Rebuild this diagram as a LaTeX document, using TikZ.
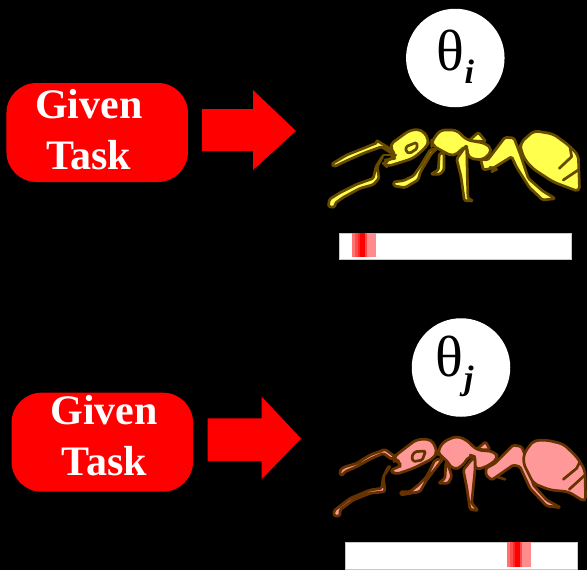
\documentclass[tikz,border=0pt]{standalone}
\usepackage{fontspec}
\setmainfont{Liberation Serif}
\definecolor{antY}{HTML}{FFFF4D}
\definecolor{antYd}{HTML}{664A00}
\definecolor{antP}{HTML}{FF9999}
\definecolor{antPd}{HTML}{663300}
\definecolor{baredge}{HTML}{C8C8C8}
\tikzset{
  x=1pt,y=-1pt,
  task/.style={fill=red,rounded corners=30pt,minimum width=181.5pt,minimum height=99pt,inner sep=0pt},
  tasktext/.style={text=white,font=\fontsize{42}{51}\selectfont\bfseries,align=center,inner sep=0pt},
  disc/.style={circle,fill=white,minimum size=98.5pt,inner sep=0pt},
  greek/.style={anchor=base west,inner sep=0pt,font=\fontsize{58}{60}\selectfont},
  subidx/.style={anchor=base west,inner sep=0pt,font=\fontsize{34}{36}\selectfont\bfseries\itshape},
  bigarrow/.style={fill=red,line join=round},
  antpart/.style={line width=2.7pt,line join=round,rounded corners=1.5pt,fill=antfill,draw=antline},
  antbody/.style={antpart,rounded corners=5pt},
  antstroke/.style={line width=2.7pt,line join=round,line cap=round,draw=antline},
  za/.style={shift={(320,110)},x=0.3333pt,y=-0.3333pt},
  zb/.style={shift={(320,420)},x=0.3333pt,y=-0.3333pt},
}
\colorlet{antfill}{antY}\colorlet{antline}{antYd}
\begin{document}
\begin{tikzpicture}
\useasboundingbox (0,0) rectangle (587,570);
\fill[black] (0,0) rectangle (587,570);
% upper row
\node[task] (box1) at (97.2,132.5) {};
\node[tasktext] (txt1) at (88.7,130) {Given\\Task};
\path[bigarrow] (202,109) -- (253,109) -- (253,90) -- (296,131) -- (253,170) -- (253,151) -- (202,151) -- cycle;
\node[disc] (th1) at (455.3,58) {};
\node[greek] (g1) at (436,70) {θ};
\node[subidx] (s1) at (464.5,83) {i};
% yellow ant
\begin{scope}[za]
\path[antpart] (482,148) -- (503,150) -- (555,82) -- (582,84) -- (600,130) -- (625,205) -- (668,243) -- (706,266) -- (668,270) -- (628,232) -- (590,172) -- (575,140) -- (520,174) -- (490,180) -- cycle;
\path[antbody] (600,100) -- (642,62) -- (700,72) -- (745,105) -- (775,135) -- (779,246) -- (700,216) -- (640,177) -- (615,150) -- (603,120) -- cycle;
\path[antpart] (447,92) -- (475,67) -- (498,95) -- cycle;
\path[antpart] (358,130) -- (372,130) -- (372,180) -- (360,193) -- (332,193) -- (355,180) -- cycle;
\path[antbody] (335,95) -- (360,60) -- (410,60) -- (440,90) -- (497,100) -- (518,120) -- (490,150) -- (445,145) -- (440,105) -- (400,140) -- (370,125) -- (335,105) -- cycle;
\path[antpart] (410,147) -- (440,105) -- (442,200) -- (444,265) -- (460,273) -- (433,272) -- (423,200) -- cycle;
\path[antpart] (352,115) -- (330,120) -- (300,170) -- (280,198) -- (250,212) -- (220,216) -- (222,228) -- (255,233) -- (294,210) -- (302,185) -- (335,130) -- cycle;
\path[antpart] (35,162) -- (80,135) -- (130,115) -- (172,98) -- (168,90) -- (220,122) -- (215,130) -- (185,110) -- (130,130) -- (85,150) -- (42,170) -- cycle;
\path[antpart] (190,135) -- (172,170) -- (177,205) -- (160,224) -- (120,235) -- (70,262) -- (45,280) -- (45,292) -- (25,290) -- (28,268) -- (60,248) -- (110,223) -- (160,205) -- (168,170) -- cycle;
\path[antbody] (208,105) -- (270,60) -- (305,58) -- (328,90) -- (320,110) -- (280,145) -- (200,170) -- (190,160) -- (205,150) -- (225,140) -- (220,125) -- cycle;
\path[antpart] (258,110) -- (290,97) -- (292,115) -- (270,130) -- (258,125) -- cycle;
\path[antstroke] (190,135) -- (228,135);
\path[antstroke] (195,150) -- (225,145);
\path[antstroke] (750,110) -- (755,140) -- (718,175);
\path[antstroke] (775,180) -- (730,210);
\path[antstroke] (510,172) -- (530,178) -- (515,185);
\end{scope}
% bar 1
\fill[white,draw=baredge,line width=0.6pt] (339.6,233.3) rectangle (571.7,259.4);
\fill[red!45] (352.3,233.3) rectangle (375.7,257.3);
\fill[red!55] (352.3,233.3) rectangle (355,257.3);
\fill[red!70] (355,233.3) rectangle (367,257.3);
\fill[red!85] (358,233.3) rectangle (360,257.3);
\fill[red] (360,233.3) rectangle (365,257.3);
% lower row
\node[task] (box2) at (102.3,442.2) {};
\node[tasktext] (txt2) at (104.3,436) {Given\\Task};
\path[bigarrow] (207.7,418.3) -- (261.7,418.3) -- (261.7,396.7) -- (301,438.5) -- (261.7,479.3) -- (261.7,461) -- (207.7,461) -- cycle;
\node[disc] (th2) at (461,367.5) {};
\node[greek] (g2) at (435,376) {θ};
\node[subidx] (s2) at (464,389) {j};
% pink ant
\colorlet{antfill}{antP}\colorlet{antline}{antPd}
\begin{scope}[zb]
\path[antpart] (498,145) -- (525,130) -- (580,75) -- (605,80) -- (625,130) -- (640,195) -- (680,240) -- (722,263) -- (680,258) -- (630,205) -- (600,140) -- (580,135) -- (515,180) -- (498,165) -- cycle;
\path[antbody] (612,100) -- (640,62) -- (680,60) -- (730,72) -- (770,110) -- (795,150) -- (797,247) -- (745,215) -- (690,210) -- (640,190) -- (610,130) -- cycle;
\path[antpart] (470,88) -- (497,65) -- (510,90) -- cycle;
\path[antpart] (378,125) -- (390,150) -- (395,170) -- (385,190) -- (355,190) -- (375,175) -- cycle;
\path[antbody] (355,90) -- (370,65) -- (410,48) -- (440,60) -- (470,90) -- (525,95) -- (535,115) -- (500,140) -- (465,150) -- (465,110) -- (450,105) -- (425,140) -- (400,150) -- (375,115) -- (355,105) -- cycle;
\path[antpart] (430,150) -- (450,125) -- (465,110) -- (465,150) -- (455,250) -- (475,272) -- (450,268) -- (440,200) -- cycle;
\path[antpart] (370,115) -- (345,120) -- (320,170) -- (295,195) -- (270,215) -- (242,215) -- (242,225) -- (300,215) -- (320,180) -- cycle;
\path[antpart] (65,168) -- (58,155) -- (70,142) -- (110,130) -- (150,105) -- (195,88) -- (225,110) -- (215,118) -- (190,100) -- (155,115) -- (110,140) -- (75,155) -- cycle;
\path[antpart] (210,140) -- (190,170) -- (195,215) -- (150,220) -- (100,240) -- (60,270) -- (60,288) -- (42,288) -- (42,272) -- (90,235) -- (150,210) -- (185,205) -- (190,170) -- (205,140) -- cycle;
\path[antbody] (222,110) -- (290,58) -- (335,58) -- (352,95) -- (340,115) -- (280,145) -- (222,165) -- (210,145) -- (240,145) -- (240,125) -- (222,120) -- cycle;
\path[antpart] (275,110) -- (285,95) -- (317,93) -- (307,120) -- (280,125) -- cycle;
\path[antstroke] (780,125) -- (770,145) -- (730,178);
\path[antstroke] (795,165) -- (748,208);
\path[antstroke] (530,170) -- (555,178);
\end{scope}
% bar 2
\fill[white,draw=baredge,line width=0.6pt] (345,542.3) rectangle (577,569.5);
\fill[red!45] (507.3,542.3) rectangle (530.7,567);
\fill[red!55] (507.3,542.3) rectangle (510,567);
\fill[red!70] (510,542.3) rectangle (522,567);
\fill[red!85] (513,542.3) rectangle (515,567);
\fill[red] (515,542.3) rectangle (520,567);
\end{tikzpicture}
\end{document}
